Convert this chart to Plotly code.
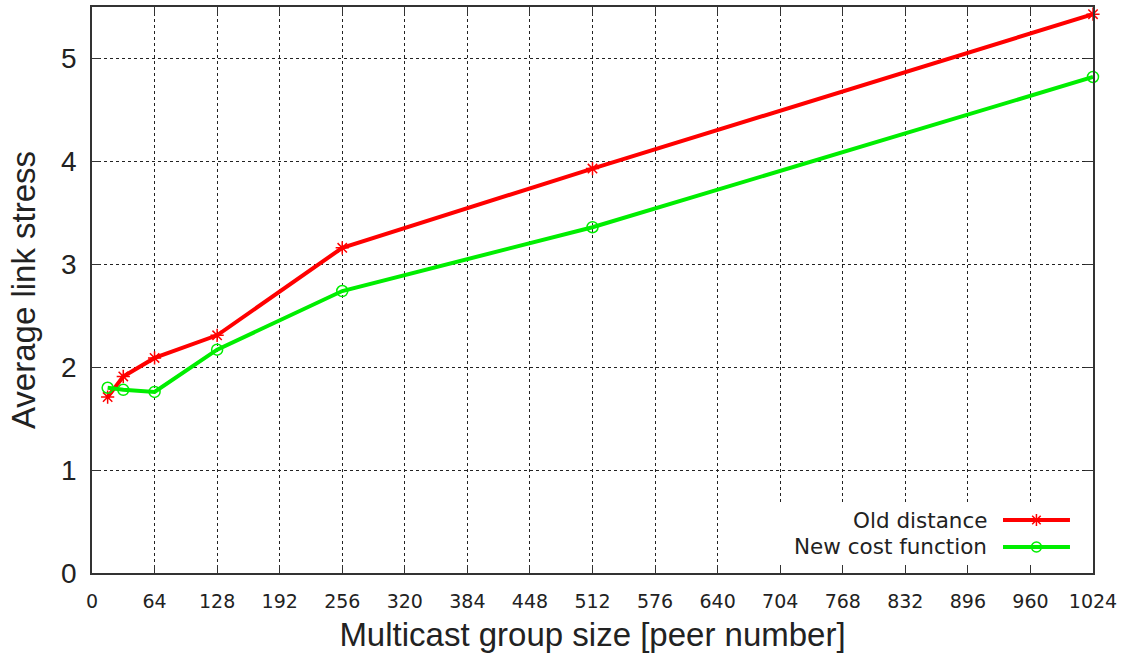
import plotly.graph_objects as go

group_size = [16, 32, 64, 128, 256, 512, 1024]
old_distance = [1.71, 1.91, 2.09, 2.31, 3.16, 3.93, 5.43]
new_cost = [1.80, 1.78, 1.76, 2.17, 2.74, 3.36, 4.82]
x_ticks = list(range(0, 1025, 64))
y_ticks = [0, 1, 2, 3, 4, 5]

series_names = ["Old distance", "New cost function"]
series_colors = ["#ff0000", "#00ee00"]
series_symbols = ["asterisk-open", "circle-open"]

fig = go.Figure()
for name, vals, col, sym in zip(series_names, [old_distance, new_cost], series_colors, series_symbols):
    fig.add_trace(go.Scatter(
        x=group_size, y=vals, mode="lines+markers", name=name,
        line=dict(color=col, width=4),
        marker=dict(symbol=sym, size=11, color=col, line=dict(color=col, width=1.5)),
        showlegend=False, cliponaxis=False,
    ))

# white legend box on an overlay axis (covers the grid)
fig.add_trace(go.Scatter(
    x=[0.683, 0.998, 0.998, 0.683, 0.683], y=[0.019, 0.019, 0.121, 0.121, 0.019],
    xaxis="x2", yaxis="y2", mode="lines", fill="toself", fillcolor="white",
    line=dict(width=0, color="white"), showlegend=False, hoverinfo="skip"))

# gnuplot-style legend (text left, sample right)
legend_rows = [0.0935, 0.046]
for name, col, sym, ry in zip(series_names, series_colors, series_symbols, legend_rows):
    fig.add_trace(go.Scatter(
        x=[0.9101, 0.977], y=[ry, ry], xaxis="x2", yaxis="y2", mode="lines",
        line=dict(color=col, width=4), showlegend=False, hoverinfo="skip"))
    fig.add_trace(go.Scatter(
        x=[0.9435], y=[ry], xaxis="x2", yaxis="y2", mode="markers",
        marker=dict(symbol=sym, size=10, color=col, line=dict(color=col, width=1.5)),
        showlegend=False, hoverinfo="skip"))
    fig.add_annotation(x=0.896, y=ry, xref="x2", yref="y2", text=name,
                       showarrow=False, xanchor="right", yanchor="middle",
                       font=dict(family="DejaVu Sans", size=21.5, color="#222222"))

axis_common = dict(
    showline=True, linecolor="#333333", linewidth=1.5, mirror="ticks",
    ticks="inside", ticklen=8, tickcolor="#333333", tickwidth=1.2,
    showgrid=True, gridcolor="#222222", gridwidth=1, griddash="3px,3px",
    zeroline=False,
)

fig.update_layout(
    width=1127, height=660,
    margin=dict(l=92, r=34, t=5, b=87),
    paper_bgcolor="white", plot_bgcolor="white",
    xaxis=dict(range=[0, 1024], tickvals=x_ticks, ticktext=[str(v) for v in x_ticks],
               tickfont=dict(family="DejaVu Sans", size=19, color="#222222"),
               ticklabelstandoff=10,
               title=dict(text="Multicast group size [peer number]",
                          font=dict(family="Liberation Sans", size=33, color="#222222"),
                          standoff=12),
               **axis_common),
    yaxis=dict(range=[0, 5.5], tickvals=y_ticks,
               tickfont=dict(family="Liberation Sans", size=28, color="#222222"),
               ticklabelstandoff=8,
               title=dict(text="Average link stress",
                          font=dict(family="Liberation Sans", size=33, color="#222222"),
                          standoff=16),
               **axis_common),
    xaxis2=dict(range=[0, 1], overlaying="x", visible=False, fixedrange=True),
    yaxis2=dict(range=[0, 1], overlaying="y", visible=False, fixedrange=True),
    showlegend=False,
)

fig.write_html("out.html")
